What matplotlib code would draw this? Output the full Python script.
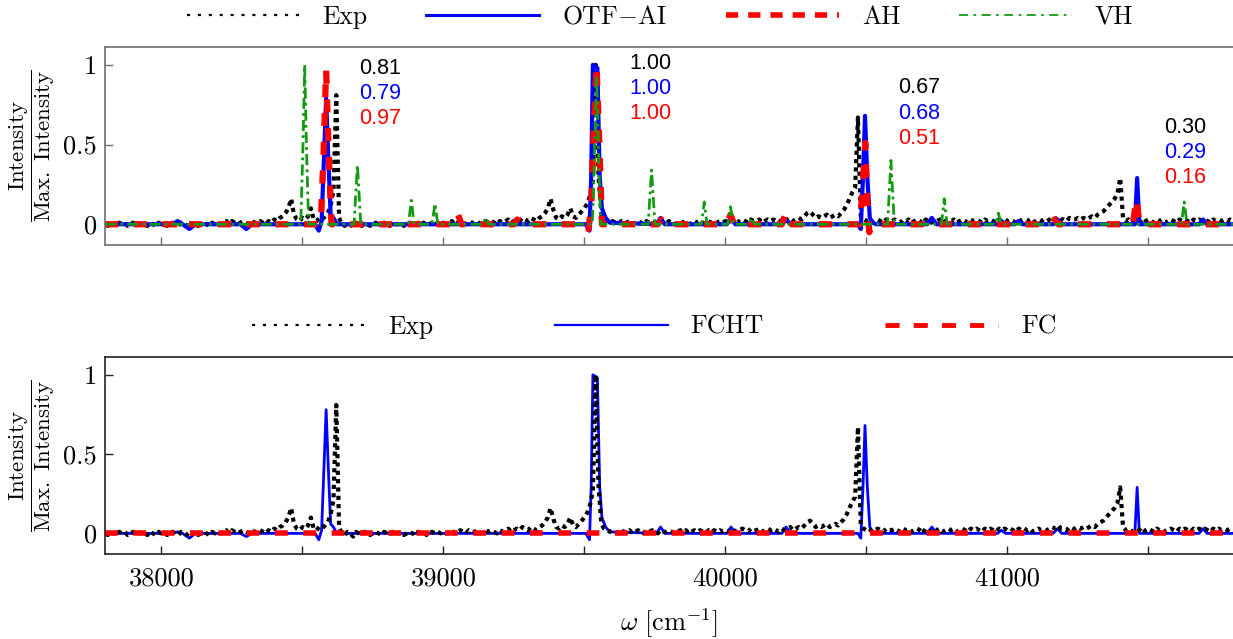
import numpy as np
import matplotlib
matplotlib.use("Agg")
import matplotlib.pyplot as plt
from matplotlib.lines import Line2D
from matplotlib.ticker import MultipleLocator

plt.rcParams["font.family"] = ["cmr10", "DejaVu Serif"]
plt.rcParams["mathtext.fontset"] = "cm"
plt.rcParams["axes.formatter.use_mathtext"] = True

# --- experimental spectrum, 10 cm^-1 grid from 37800 ---
exp_start, exp_step = 37800, 10
exp_y = [
    0.00, -0.01, 0.01, 0.00, -0.01, 0.01, 0.00, 0.01, -0.01, 0.00, 0.01, -0.01, 0.00, 0.01, 0.00, -0.01, 0.01, 0.00, -0.01, 0.01,
    0.00, 0.01, -0.01, 0.00, 0.01, 0.00, -0.01, 0.01, 0.00, -0.01, 0.01, 0.00, 0.01, -0.01, 0.00, 0.01, 0.00, -0.01, 0.01, 0.00,
    0.01, 0.00, 0.01, 0.02, 0.00, 0.02, 0.01, 0.00, 0.01, 0.02, 0.01, 0.00, 0.02, 0.01, 0.01, 0.02, 0.01, 0.00, 0.02, 0.01,
    0.03, 0.02, 0.04, 0.05, 0.07, 0.10, 0.16, 0.06, 0.03, 0.02, 0.04, 0.03, 0.05, 0.10, 0.03, 0.02, 0.04, 0.03, 0.05, 0.07,
    0.12, 0.21, 0.81, 0.04, 0.00, -0.01, 0.01, 0.00, -0.02, 0.01, 0.00, -0.01, 0.01, 0.00, -0.01, 0.00, 0.01, 0.00, -0.01, 0.01,
    0.00, -0.01, 0.01, 0.00, 0.00, 0.01, -0.01, 0.00, 0.01, 0.00, -0.01, 0.01, 0.00, 0.01, -0.01, 0.00, 0.01, 0.00, 0.01, 0.00,
    0.01, 0.00, 0.01, 0.02, 0.00, 0.01, 0.02, 0.01, 0.00, 0.02, 0.01, 0.01, 0.02, 0.00, 0.01, 0.02, 0.01, 0.02, 0.01, 0.00,
    0.02, 0.01, 0.02, 0.03, 0.01, 0.02, 0.03, 0.02, 0.04, 0.03, 0.02, 0.04, 0.03, 0.02, 0.04, 0.05, 0.07, 0.10, 0.16, 0.09,
    0.04, 0.03, 0.05, 0.04, 0.06, 0.10, 0.05, 0.04, 0.06, 0.08, 0.10, 0.13, 0.18, 0.27, 1.00, 0.30, 0.06, 0.03, 0.02, 0.01,
    0.02, 0.01, 0.00, 0.02, 0.01, 0.01, 0.02, 0.00, 0.01, 0.02, 0.01, 0.00, 0.02, 0.01, 0.02, 0.01, 0.00, 0.02, 0.01, 0.01,
    0.02, 0.01, 0.00, 0.01, 0.02, 0.01, 0.02, 0.00, 0.01, 0.02, 0.01, 0.02, 0.01, 0.00, 0.02, 0.01, 0.02, 0.01, 0.02, 0.01,
    0.02, 0.01, 0.03, 0.02, 0.01, 0.02, 0.03, 0.02, 0.01, 0.03, 0.02, 0.02, 0.03, 0.01, 0.02, 0.03, 0.02, 0.03, 0.02, 0.01,
    0.03, 0.02, 0.03, 0.04, 0.02, 0.03, 0.04, 0.03, 0.05, 0.07, 0.08, 0.06, 0.04, 0.05, 0.04, 0.05, 0.06, 0.04, 0.05, 0.06,
    0.05, 0.07, 0.09, 0.12, 0.16, 0.20, 0.23, 0.67, 0.05, 0.03, 0.02, 0.03, 0.01, 0.02, 0.03, 0.02, 0.01, 0.03, 0.02, 0.02,
    0.03, 0.02, 0.01, 0.03, 0.02, 0.03, 0.01, 0.02, 0.03, 0.02, 0.00, 0.03, 0.02, 0.01, 0.03, 0.02, 0.03, 0.01, 0.02, 0.03,
    0.02, 0.03, 0.01, 0.02, 0.03, 0.02, 0.01, 0.03, 0.02, 0.03, 0.02, 0.01, 0.03, 0.02, 0.03, 0.02, 0.01, 0.03, 0.02, 0.03,
    0.02, 0.03, 0.02, 0.01, 0.03, 0.02, 0.03, 0.02, 0.03, 0.01, 0.02, 0.03, 0.02, 0.03, 0.02, 0.03, 0.04, 0.03, 0.05, 0.03,
    0.03, 0.02, 0.04, 0.03, 0.03, 0.04, 0.03, 0.04, 0.03, 0.04, 0.05, 0.04, 0.06, 0.07, 0.08, 0.10, 0.12, 0.14, 0.16, 0.19,
    0.29, 0.04, 0.02, 0.03, 0.01, 0.02, 0.03, 0.02, 0.00, 0.02, 0.03, 0.02, 0.01, 0.03, 0.02, 0.03, 0.01, 0.02, 0.03, 0.02,
    0.01, 0.03, 0.02, 0.03, 0.02, 0.01, 0.03, 0.02, 0.03, 0.02, 0.03, 0.02, 0.01, 0.03, 0.02, 0.03, 0.02, 0.03, 0.02, 0.03,
    0.02,
]
exp_x = exp_start + exp_step * np.arange(len(exp_y))

# --- OTF-AI (top) ---
otf_x = [37800, 38040, 38057, 38075, 38099, 38120, 38280, 38301, 38320, 38545, 38558, 38568, 38576,
         38584, 38592, 38600, 38610, 38622, 38640, 39505, 39518, 39524, 39530, 39546, 39554, 39562,
         39575, 39590, 39755, 39770, 39785, 40005, 40020, 40035, 40200, 40215, 40230, 40470, 40480,
         40488, 40495, 40503, 40512, 40522, 40535, 40715, 40732, 40748, 40965, 40979, 40993, 41025,
         41039, 41053, 41162, 41178, 41192, 41440, 41452, 41460, 41468, 41478, 41680, 41694, 41708, 41800]
otf_y = [0.00, 0.00, 0.02, 0.00, -0.03, 0.00, 0.00, -0.03, 0.00, 0.00, -0.04, 0.02, 0.40,
         0.79, 0.40, 0.06, 0.04, 0.00, 0.00, 0.00, -0.04, 0.30, 1.00, 0.98, 0.30, 0.10,
         0.04, 0.01, 0.00, 0.04, 0.00, 0.00, 0.04, 0.00, 0.00, 0.03, 0.00, 0.00, -0.03,
         0.30, 0.68, 0.30, 0.04, 0.01, 0.00, 0.00, 0.04, 0.00, 0.00, 0.02, 0.00, 0.00,
         0.02, 0.00, 0.00, 0.03, 0.00, 0.00, 0.00, 0.29, 0.00, 0.00, 0.00, 0.03, 0.00, 0.00]

# --- AH (top) ---
ah_x = [37800, 38050, 38064, 38078, 38565, 38575, 38584, 38593, 38603, 39040, 39052, 39064, 39250,
        39262, 39274, 39505, 39514, 39524, 39533, 39543, 39553, 39562, 39760, 39774, 39788, 40005,
        40018, 40031, 40200, 40214, 40228, 40476, 40486, 40496, 40503, 40510, 40520, 41155, 41167,
        41180, 41445, 41457, 41469, 41800]
ah_y = [0.00, 0.00, 0.02, 0.00, 0.00, 0.45, 0.97, 0.45, 0.00, 0.00, 0.06, 0.00, 0.00,
        0.03, 0.00, 0.00, -0.03, 0.10, 0.60, 1.00, 0.50, 0.00, 0.00, 0.03, 0.00, 0.00,
        0.06, 0.00, 0.00, 0.07, 0.00, 0.00, 0.20, 0.51, 0.15, -0.05, 0.00, 0.00, 0.03,
        0.00, 0.00, 0.16, 0.00, 0.00]

# --- VH (top) ---
vh_x = [37800, 38494, 38502, 38508, 38514, 38522, 38683, 38695, 38707, 38876, 38886, 38896, 38960,
        38970, 38980, 39140, 39150, 39160, 39528, 39536, 39543, 39550, 39558, 39726, 39738, 39750,
        39915, 39925, 39935, 40008, 40018, 40028, 40083, 40093, 40103, 40575, 40587, 40599, 40766,
        40776, 40786, 40958, 40968, 40978, 41617, 41627, 41637, 41800]
vh_y = [0.00, 0.00, 0.50, 1.00, 0.50, 0.00, 0.00, 0.37, 0.00, 0.00, 0.15, 0.00, 0.00,
        0.13, 0.00, 0.00, 0.04, 0.00, 0.00, 0.45, 0.93, 0.45, 0.00, 0.00, 0.34, 0.00,
        0.00, 0.14, 0.00, 0.00, 0.11, 0.00, 0.00, 0.04, 0.00, 0.00, 0.40, 0.00, 0.00,
        0.16, 0.00, 0.00, 0.07, 0.00, 0.00, 0.14, 0.00, 0.00]

# --- FCHT (bottom) ---
fcht_x = otf_x
fcht_y = [0.00, 0.00, 0.01, 0.00, -0.03, 0.00, 0.00, -0.02, 0.00, 0.00, -0.04, 0.02, 0.40,
          0.78, 0.40, 0.06, 0.04, 0.00, 0.00, 0.00, -0.04, 0.30, 1.00, 0.98, 0.30, 0.10,
          0.04, 0.01, 0.00, 0.04, 0.00, 0.00, 0.04, 0.00, 0.00, 0.04, 0.00, 0.00, -0.03,
          0.30, 0.68, 0.30, 0.04, 0.01, 0.00, 0.00, 0.04, 0.00, 0.00, 0.02, 0.00, 0.00,
          0.02, 0.00, 0.00, 0.03, 0.00, 0.00, 0.00, 0.29, 0.00, 0.00, 0.00, 0.03, 0.00, 0.00]

# --- FC (bottom) ---
fc_x = [37800, 41800]
fc_y = [0.00, 0.00]

# relative peak intensities printed on the top panel
ann_x = [38702, 39660, 40613, 41557]
ann_y = [0.98, 1.01, 0.855, 0.61]
ann_exp = ["0.81", "1.00", "0.67", "0.30"]
ann_otf = ["0.79", "1.00", "0.68", "0.29"]
ann_ah = ["0.97", "1.00", "0.51", "0.16"]

xticks = [38000, 39000, 40000, 41000]
yticks = [0, 0.5, 1]
ytick_labels = ["0", "0.5", "1"]

BLUE = "#0000ff"
RED = "#ff0000"
GREEN = "#139a13"
ylabel = r"$\dfrac{\mathrm{Intensity}}{\mathrm{Max.\ Intensity}}$"


def style_axes(ax, frame_color):
    ax.set_xlim(37800, 41800)
    ax.set_ylim(-0.13, 1.112)
    ax.set_xticks(xticks)
    ax.xaxis.set_minor_locator(MultipleLocator(500))
    ax.set_yticks(yticks, ytick_labels)
    ax.tick_params(axis="both", which="both", direction="in", length=6, width=1,
                   color=frame_color, labelsize=19)
    ax.tick_params(axis="x", pad=9)
    ax.tick_params(axis="y", pad=6)
    for side in ["top", "left", "bottom"]:
        ax.spines[side].set_color(frame_color)
        ax.spines[side].set_linewidth(1.2)
    ax.spines["right"].set_visible(False)
    ax.set_ylabel(ylabel, fontsize=16.5)
    ax.yaxis.set_label_coords(-0.043, 0.5)


fig = plt.figure(figsize=(12.33, 6.39), dpi=100)
ax1 = fig.add_axes([0.0852, 0.6166, 0.9148, 0.3099])
ax2 = fig.add_axes([0.0852, 0.1330, 0.9148, 0.3083])

exp_style = dict(color="black", lw=3.0, linestyle=(0, (1, 1.0)))

# top panel
ax1.plot(exp_x, exp_y, **exp_style)
ax1.plot(otf_x, otf_y, color=BLUE, lw=3)
ax1.plot(ah_x, ah_y, color=RED, lw=4.5, linestyle=(0, (2.1, 2.5)))
ax1.plot(vh_x, vh_y, color=GREEN, lw=2, linestyle=(0, (4, 1.5, 1, 1.5)))
style_axes(ax1, "#707070")
ax1.tick_params(axis="x", labelbottom=False)

step = 0.158
for i in range(len(ann_x)):
    for j, (txt, col) in enumerate([(ann_exp[i], "black"), (ann_otf[i], BLUE), (ann_ah[i], RED)]):
        ax1.text(ann_x[i], ann_y[i] - j * step, txt, color=col, fontsize=15.5,
                 family="Liberation Sans", ha="left", va="center")

h_top = [
    Line2D([], [], color="black", lw=1.6, linestyle=(0, (1.4, 3.5))),
    Line2D([], [], color=BLUE, lw=2.2),
    Line2D([], [], color=RED, lw=4, linestyle=(0, (2.2, 1.8))),
    Line2D([], [], color=GREEN, lw=1.3, linestyle=(0, (5, 3, 1.5, 3))),
]
ax1.legend(h_top, ["Exp", r"$\mathrm{OTF{-}AI}$", "AH", "VH"], loc="center",
           bbox_to_anchor=(0.492, 1.152), ncol=4, frameon=False, fontsize=18.5,
           handlelength=4.4, handletextpad=0.9, columnspacing=2.27)

# bottom panel
ax2.plot(fcht_x, fcht_y, color=BLUE, lw=2)
ax2.plot(exp_x, exp_y, **exp_style)
ax2.plot(fc_x, fc_y, color=RED, lw=4, linestyle=(0, (2.3, 2.8)))
style_axes(ax2, "#222222")
ax2.set_xticks(xticks, [str(v) for v in xticks])
ax2.set_xlabel(r"$\omega\ [\mathrm{cm}^{-1}]$", fontsize=19, labelpad=12)

h_bot = [
    Line2D([], [], color="black", lw=1.6, linestyle=(0, (1.4, 3.5))),
    Line2D([], [], color=BLUE, lw=1.6),
    Line2D([], [], color=RED, lw=3.5, linestyle=(0, (2.9, 2.9))),
]
ax2.legend(h_bot, ["Exp", "FCHT", "FC"], loc="center",
           bbox_to_anchor=(0.487, 1.152), ncol=3, frameon=False, fontsize=18.5,
           handlelength=4.4, handletextpad=0.9, columnspacing=4.7)

fig.savefig("out.png", dpi=100)
